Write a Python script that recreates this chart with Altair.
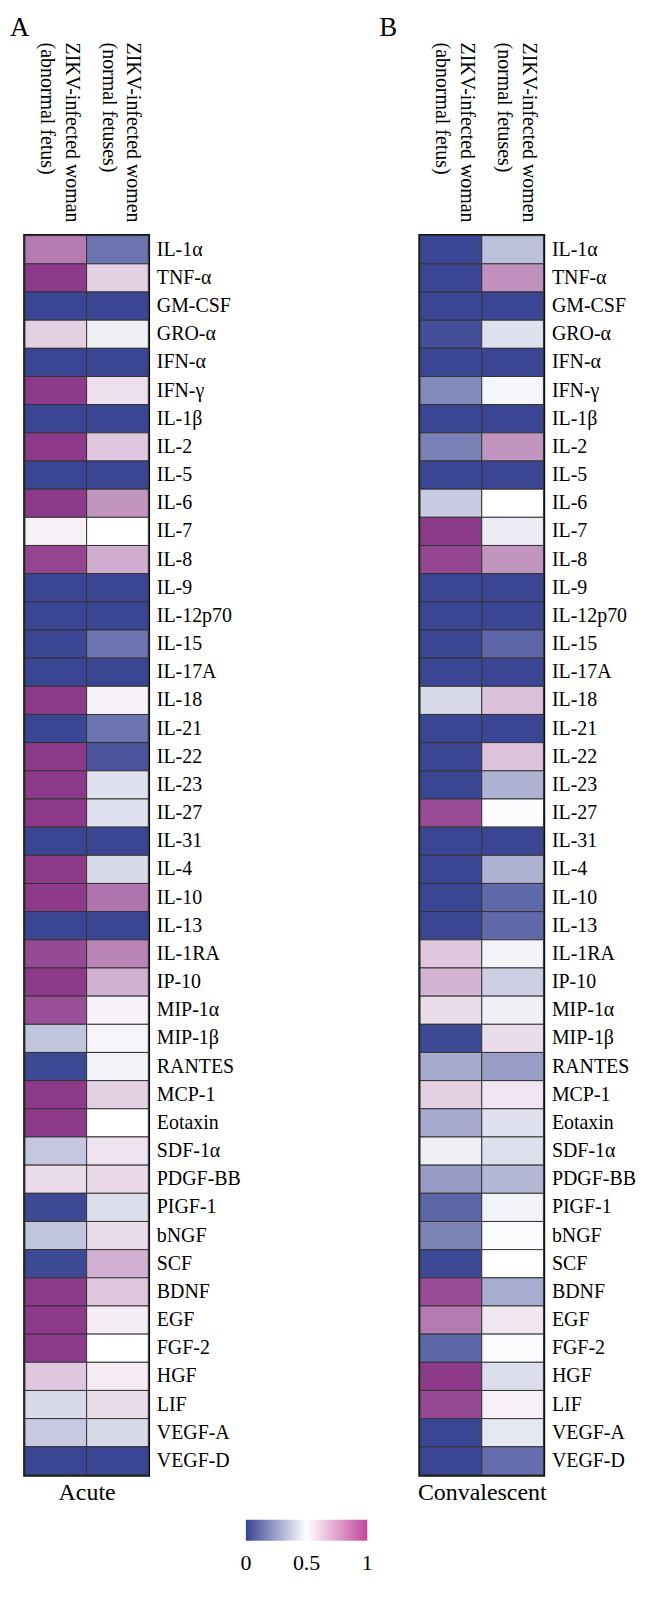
import altair as alt
import pandas as pd

FONT = "Liberation Serif"
BLUE = "#3a4594"
WHITE = "#ffffff"
PURPLE = "#8e3a8b"
PINK = "#c2469a"

cytokines = ["IL-1α", "TNF-α", "GM-CSF", "GRO-α", "IFN-α", "IFN-γ", "IL-1β", "IL-2", "IL-5", "IL-6",
             "IL-7", "IL-8", "IL-9", "IL-12p70", "IL-15", "IL-17A", "IL-18", "IL-21", "IL-22", "IL-23",
             "IL-27", "IL-31", "IL-4", "IL-10", "IL-13", "IL-1RA", "IP-10", "MIP-1α", "MIP-1β", "RANTES",
             "MCP-1", "Eotaxin", "SDF-1α", "PDGF-BB", "PIGF-1", "bNGF", "SCF", "BDNF", "EGF", "FGF-2",
             "HGF", "LIF", "VEGF-A", "VEGF-D"]

groups = ["abnormal", "normal"]
group_headers = ["ZIKV-infected woman\n(abnormal fetus)", "ZIKV-infected women\n(normal fetuses)"]

panel_letters = ["A", "B"]
phases = ["Acute", "Convalescent"]

acute_abnormal = [0.835, 1, 0, 0.62, 0, 1, 0, 1, 0, 1,
                  0.535, 0.975, 0, 0, 0, 0, 1, 0, 1, 1,
                  1, 0, 1, 1, 0, 0.96, 1, 0.945, 0.345, 0.01,
                  1, 1, 0.35, 0.59, 0.01, 0.345, 0.01, 1, 1, 1,
                  0.64, 0.40, 0.355, 0]
acute_normal = [0.13, 0.62, 0, 0.46, 0, 0.58, 0, 0.64, 0, 0.77,
                0.5, 0.71, 0, 0, 0.13, 0, 0.53, 0.13, 0.04, 0.42,
                0.42, 0, 0.40, 0.85, 0, 0.81, 0.70, 0.53, 0.477, 0.47,
                0.62, 0.5, 0.57, 0.60, 0.41, 0.59, 0.70, 0.64, 0.545, 0.5,
                0.55, 0.59, 0.40, 0]
conv_abnormal = [0, 0, 0, 0.025, 0, 0.185, 0, 0.16, 0, 0.36,
                 1, 0.97, 0, 0, 0, 0, 0.40, 0, 0, 0,
                 0.955, 0, 0, 0, 0, 0.645, 0.69, 0.59, 0.01, 0.277,
                 0.62, 0.275, 0.46, 0.23, 0.086, 0.17, 0.01, 0.955, 0.835, 0.09,
                 1, 0.96, 0, 0]
conv_normal = [0.33, 0.78, 0, 0.42, 0, 0.475, 0, 0.77, 0, 0.5,
               0.45, 0.77, 0, 0, 0.09, 0, 0.66, 0, 0.65, 0.295,
               0.51, 0, 0.295, 0.10, 0.10, 0.47, 0.37, 0.46, 0.59, 0.24,
               0.565, 0.42, 0.416, 0.31, 0.467, 0.49, 0.5, 0.28, 0.56, 0.49,
               0.41, 0.535, 0.435, 0.11]

legend_values = [0, 0.5, 1]
legend_labels = ["0", "0.5", "1"]

ROW_H = 28.3
PLOT_W = 124
PLOT_H = ROW_H * len(cytokines)
HEADER_Y = -194


def colorbar():
    cb_scale = alt.Scale(domain=[legend_values[0], legend_values[-1]], range=[222, 344])
    grad = alt.Gradient(
        gradient="linear",
        stops=[alt.GradientStop(color=BLUE, offset=0),
               alt.GradientStop(color=WHITE, offset=0.5),
               alt.GradientStop(color=PINK, offset=1)],
        x1=0, x2=1, y1=0, y2=0,
    )
    bar = alt.Chart(pd.DataFrame({"lo": [legend_values[0]], "hi": [legend_values[-1]]})).mark_rect(
        fill=grad, stroke=None
    ).encode(
        x=alt.X("lo:Q", scale=cb_scale, axis=None),
        x2="hi:Q",
        y=alt.value(PLOT_H + 45),
        y2=alt.value(PLOT_H + 66),
    )
    labels = alt.Chart(pd.DataFrame({"v": legend_values, "label": legend_labels})).mark_text(
        font=FONT, fontSize=22, baseline="middle", align="center", color="black"
    ).encode(
        x=alt.X("v:Q", scale=cb_scale, axis=None),
        y=alt.value(PLOT_H + 89),
        text="label:N",
    )
    return alt.layer(bar, labels)


def panel(idx, letter_dx, vals_abn, vals_nor, with_legend):
    df = pd.DataFrame({
        "cytokine": cytokines * 2,
        "group": [groups[0]] * len(cytokines) + [groups[1]] * len(cytokines),
        "value": list(vals_abn) + list(vals_nor),
    })
    hdr = pd.DataFrame({"group": groups, "header": group_headers})

    x = alt.X("group:N", sort=groups,
              scale=alt.Scale(paddingInner=0, paddingOuter=0),
              axis=alt.Axis(title=phases[idx], labels=False, ticks=False, domain=False,
                            orient="bottom", titleFont=FONT, titleFontSize=24,
                            titleFontWeight="normal", titleColor="black",
                            titlePadding=6))
    y = alt.Y("cytokine:N", sort=cytokines,
              scale=alt.Scale(paddingInner=0, paddingOuter=0),
              axis=alt.Axis(orient="right", title=None, ticks=False, domain=False,
                            labelFont=FONT, labelFontSize=20, labelColor="black",
                            labelPadding=8, labelLimit=300))

    cells = alt.Chart(df).mark_rect(stroke="#333333", strokeWidth=1).encode(
        x=x, y=y,
        color=alt.Color("value:Q", legend=None,
                        scale=alt.Scale(domain=[0, 0.5, 1], range=[BLUE, WHITE, PURPLE],
                                        interpolate="rgb")),
    )

    header = alt.Chart(hdr).mark_text(
        angle=90, align="left", baseline="middle", lineBreak="\n",
        font=FONT, fontSize=20, lineHeight=25, color="black", dy=-16,
    ).encode(x=x, y=alt.value(HEADER_Y), text="header:N")

    letter = alt.Chart(pd.DataFrame({"t": [panel_letters[idx]]})).mark_text(
        font=FONT, fontSize=27, align="left", baseline="top", color="black",
    ).encode(x=alt.value(letter_dx), y=alt.value(HEADER_Y - 28), text="t:N")

    heat = alt.layer(cells, header, letter)
    if with_legend:
        body = alt.layer(heat, colorbar()).resolve_scale(x="independent")
    else:
        body = heat

    return body.properties(
        width=PLOT_W, height=PLOT_H,
        view=alt.ViewBackground(stroke="#111111", strokeWidth=3.5),
    )


panel_a = panel(0, -15, acute_abnormal, acute_normal, True)
panel_b = panel(1, -41, conv_abnormal, conv_normal, False)

chart = alt.hconcat(panel_a, panel_b, spacing=2).properties(padding=0).configure_view(stroke=None)

chart.save("out.html", embed_options={"renderer": "svg", "actions": False})
